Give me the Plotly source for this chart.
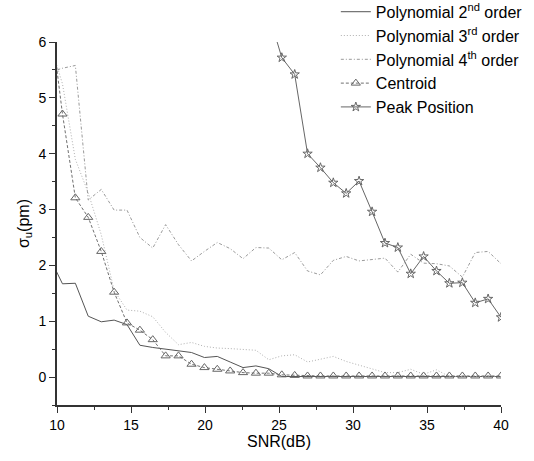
import plotly.graph_objects as go

snr = [9.5, 10.37, 11.24, 12.11, 12.99, 13.86, 14.73, 15.6, 16.47, 17.34,
       18.21, 19.09, 19.96, 20.83, 21.7, 22.57, 23.44, 24.31, 25.19, 26.06,
       26.93, 27.8, 28.67, 29.54, 30.41, 31.29, 32.16, 33.03, 33.9, 34.77,
       35.64, 36.51, 37.39, 38.26, 39.13, 40.0]

poly2 = [2.14, 1.67, 1.68, 1.09, 0.99, 1.02, 0.94, 0.57, 0.53, 0.50,
         0.47, 0.44, 0.35, 0.37, 0.27, 0.17, 0.20, 0.15, 0.01, 0.01,
         0.01, 0.01, 0.01, 0.01, 0.01, 0.01, 0.01, 0.01, 0.01, 0.01,
         0.01, 0.01, 0.01, 0.01, 0.01, 0.01]

poly3 = [6.0, 5.25, 3.9, 3.3, 2.55, 1.55, 1.2, 1.18, 1.08, 0.8,
         0.58, 0.62, 0.55, 0.52, 0.51, 0.50, 0.48, 0.31, 0.38, 0.40,
         0.27, 0.32, 0.37, 0.28, 0.21, 0.14, 0.08, 0.08, 0.14, 0.05,
         0.13, 0.01, 0.01, 0.01, 0.01, 0.01]

poly4 = [5.46, 5.53, 5.58, 3.17, 3.36, 2.99, 2.99, 2.50, 2.31, 2.73,
         2.37, 2.08, 2.25, 2.41, 2.30, 2.12, 2.32, 2.31, 2.10, 2.23,
         1.90, 1.83, 2.09, 2.16, 2.08, 2.10, 2.13, 1.88, 2.20, 2.04,
         2.03, 1.99, 1.79, 2.23, 2.25, 2.03]

centroid = [6.55, 4.71, 3.21, 2.86, 2.25, 1.52, 0.97, 0.84, 0.67, 0.38,
            0.38, 0.23, 0.17, 0.14, 0.11, 0.08, 0.07, 0.07, 0.04, 0.03,
            0.02, 0.02, 0.02, 0.02, 0.02, 0.02, 0.02, 0.02, 0.02, 0.02,
            0.02, 0.02, 0.02, 0.02, 0.02, 0.02]

peak_snr = snr[17:]
peak = [6.5, 5.72, 5.42, 4.0, 3.75, 3.48, 3.29, 3.51, 2.96, 2.40,
        2.32, 1.85, 2.16, 1.90, 1.68, 1.69, 1.33, 1.40, 1.07]

names = ["Polynomial 2<sup>nd</sup> order", "Polynomial 3<sup>rd</sup> order",
         "Polynomial 4<sup>th</sup> order", "Centroid", "Peak Position"]

fig = go.Figure()
fig.add_trace(go.Scatter(x=snr, y=poly2, mode="lines", name=names[0],
                         line=dict(color="#555555", width=1)))
fig.add_trace(go.Scatter(x=snr, y=poly3, mode="lines", name=names[1],
                         line=dict(color="#b0b0b0", width=1, dash="1px,2px")))
fig.add_trace(go.Scatter(x=snr, y=poly4, mode="lines", name=names[2],
                         line=dict(color="#9a9a9a", width=1, dash="3px,2px,1px,2px")))
fig.add_trace(go.Scatter(x=snr, y=centroid, mode="lines+markers", name=names[3],
                         line=dict(color="#707070", width=1, dash="3px,2px"),
                         marker=dict(symbol="triangle-up-open", size=8,
                                     color="#666666", line=dict(width=1))))
fig.add_trace(go.Scatter(x=peak_snr, y=peak, mode="lines+markers", name=names[4],
                         line=dict(color="#666666", width=1),
                         marker=dict(symbol="star-open", size=7,
                                     color="#666666", line=dict(width=1))))

fig.update_layout(
    width=534, height=461,
    margin=dict(l=57, r=33, t=42, b=56, autoexpand=False),
    paper_bgcolor="white", plot_bgcolor="white",
    font=dict(family="Liberation Sans, Arial, sans-serif", size=14, color="black"),
    showlegend=True,
    legend=dict(x=0.628, y=1.13, xanchor="left", yanchor="top",
                bgcolor="rgba(0,0,0,0)", font=dict(size=16),
                tracegroupgap=0, itemwidth=30),
)
fig.update_xaxes(range=[10, 40], tickvals=[10, 15, 20, 25, 30, 35, 40],
                 showgrid=False, zeroline=False, showline=True,
                 linecolor="#333333", linewidth=2, ticks="outside", ticklen=6,
                 tickcolor="#333333", tickwidth=1,
                 minor=dict(ticks="outside", ticklen=3, dtick=2.5, tickcolor="#333333"),
                 title=dict(text="SNR(dB)", standoff=4, font=dict(size=16)))
fig.update_yaxes(range=[-0.5, 6], tickvals=[0, 1, 2, 3, 4, 5, 6],
                 showgrid=False, zeroline=False, showline=True,
                 linecolor="#333333", linewidth=2, ticks="outside", ticklen=6,
                 tickcolor="#333333", tickwidth=1,
                 minor=dict(ticks="outside", ticklen=3, dtick=0.5, tickcolor="#333333"),
                 title=dict(text="σ<sub>u</sub>(pm)", standoff=5, font=dict(size=16)))

fig.write_html("out.html", config={"displayModeBar": False},
               post_script="document.body.style.margin='0';")
